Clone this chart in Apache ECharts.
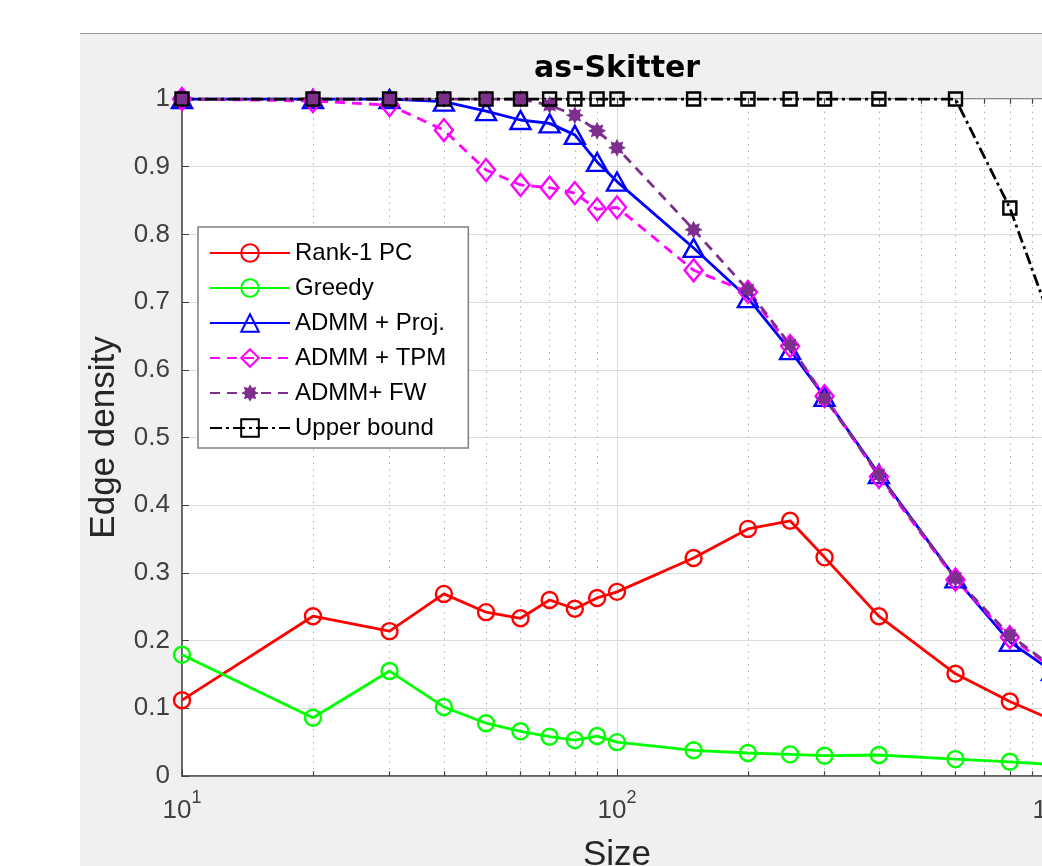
<!DOCTYPE html>
<html>
<head>
<meta charset="utf-8">
<script src="https://cdn.jsdelivr.net/npm/echarts@6/dist/echarts.min.js"></script>
<style>
  html, body { margin: 0; padding: 0; background: #fff; overflow: hidden; width: 1042px; height: 866px; }
  #fig { position: absolute; left: 80px; top: 33px; width: 1074px; height: 850px;
         background: #f0f0f0; border-top: 1px solid #9a9a9a; }
</style>
</head>
<body>
<div id="fig"></div>
<script>
// problem sizes (x) and edge density per method
var sizes = [10, 20, 30, 40, 50, 60, 70, 80, 90, 100, 150, 200, 250, 300, 400, 600, 800, 1000];
var rank1PC = [0.112, 0.236, 0.214, 0.269, 0.242, 0.233, 0.260, 0.247, 0.263, 0.272, 0.322, 0.365, 0.377, 0.323, 0.236, 0.151, 0.110, 0.083];
var greedy = [0.179, 0.086, 0.155, 0.102, 0.078, 0.066, 0.058, 0.053, 0.059, 0.050, 0.038, 0.034, 0.032, 0.030, 0.031, 0.025, 0.021, 0.017];
var admmProj = [1, 1, 1, 0.996, 0.982, 0.969, 0.964, 0.947, 0.907, 0.878, 0.780, 0.706, 0.629, 0.560, 0.446, 0.292, 0.198, 0.155];
var admmTPM = [1, 0.997, 0.991, 0.954, 0.895, 0.873, 0.869, 0.861, 0.837, 0.840, 0.747, 0.715, 0.635, 0.561, 0.442, 0.290, 0.205, 0.160];
var admmFW = [1, 1, 1, 1, 1, 1, 0.991, 0.976, 0.953, 0.928, 0.807, 0.718, 0.637, 0.558, 0.445, 0.292, 0.208, 0.162];
var upperBound = [1, 1, 1, 1, 1, 1, 1, 1, 1, 1, 1, 1, 1, 1, 1, 1, 0.839, 0.668];

// minor log ticks (matlab style dotted grid)
var minorTicks = [20, 30, 40, 50, 60, 70, 80, 90, 200, 300, 400, 500, 600, 700, 800, 900];

var FONT = 'Liberation Sans';

function pairs(ys) {
    return sizes.map(function (x, i) { return [x, ys[i]]; });
}

// asterisk-like blob for the FW marker
function starPath() {
    var d = '';
    for (var k = 0; k < 16; k++) {
        var a = k * Math.PI / 8;
        var r = (k % 2 === 0) ? 10 : 6;
        d += (k === 0 ? 'M' : 'L') + (10 + r * Math.sin(a)).toFixed(2) + ',' + (10 - r * Math.cos(a)).toFixed(2);
    }
    return 'path://' + d + 'Z';
}

var hollow = 'rgba(0,0,0,0)';

function mk(name, ys, color, symbol, size, dash, filled) {
    return {
        name: name,
        type: 'line',
        data: pairs(ys),
        symbol: symbol,
        symbolSize: size,
        showAllSymbol: true,
        z: 3,
        lineStyle: { color: color, width: 2.8, type: dash || 'solid' },
        itemStyle: filled ? { color: color } : { color: hollow, borderColor: color, borderWidth: 2.4 }
    };
}

// grid decorations drawn through the x scale
var gridLines = {
    name: 'grid', type: 'line', data: [], silent: true, z: 1,
    markLine: {
        silent: true, z: 1, symbol: 'none', label: { show: false },
        lineStyle: { color: '#b0b0b0', width: 1, type: [1.5, 5] },
        data: minorTicks.map(function (x) { return [{ coord: [x, 0] }, { coord: [x, 1] }]; })
    }
};
var tickMarks = {
    name: 'ticks', type: 'line', data: [], silent: true, z: 2,
    markLine: {
        silent: true, z: 2, symbol: 'none', label: { show: false },
        lineStyle: { color: '#444', width: 1.2, type: 'solid' },
        data: minorTicks.map(function (x) { return [{ coord: [x, 0] }, { coord: [x, 0.007] }]; })
            .concat(minorTicks.concat([100]).map(function (x) { return [{ coord: [x, 0.993] }, { coord: [x, 1] }]; }))
    }
};

var chart = echarts.init(document.getElementById('fig'));
var option = {
    animation: false,
    title: {
        text: 'as-Skitter', left: 'center', top: 20, padding: 0,
        textStyle: { fontFamily: 'DejaVu Sans', fontSize: 30, fontWeight: 'bold', color: '#000' }
    },
    legend: {
        orient: 'vertical', left: 118, top: 193,
        padding: [14, 22, 8, 11],
        itemGap: 11, itemWidth: 80, itemHeight: 22,
        backgroundColor: '#fff', borderColor: '#808080', borderWidth: 1.5, borderRadius: 0,
        textStyle: { fontFamily: FONT, fontSize: 24, lineHeight: 20, color: '#000' },
        data: ['Rank-1 PC', 'Greedy', 'ADMM + Proj.', 'ADMM + TPM', 'ADMM+ FW', 'Upper bound']
    },
    grid: {
        left: 102, top: 65, width: 870, height: 677,
        show: true, backgroundColor: '#fff', borderColor: '#6a6a6a', borderWidth: 1.5,
        outerBoundsMode: 'none', containLabel: false
    },
    xAxis: {
        type: 'log', logBase: 10, min: 10, max: 1000,
        name: 'Size', nameLocation: 'middle', nameGap: 58,
        nameTextStyle: { fontFamily: FONT, fontSize: 35, color: '#262626' },
        axisLine: { lineStyle: { color: '#555', width: 1.5 } },
        axisTick: { inside: true, length: 7, lineStyle: { color: '#444' } },
        splitLine: { show: true, lineStyle: { color: '#dcdcdc', width: 1 } },
        axisLabel: {
            fontFamily: FONT, fontSize: 26, color: '#404040', margin: 13, lineHeight: 44,
            formatter: function (v) { return '10{sup|' + Math.round(Math.log10(v)) + '}'; },
            rich: { sup: { fontFamily: FONT, fontSize: 18, lineHeight: 18, verticalAlign: 'top', color: '#404040' } }
        }
    },
    yAxis: {
        type: 'value', min: 0, max: 1, interval: 0.1,
        name: 'Edge density', nameLocation: 'middle', nameGap: 60,
        nameTextStyle: { fontFamily: FONT, fontSize: 35, color: '#262626' },
        axisLine: { show: true, lineStyle: { color: '#555', width: 1.5 } },
        axisTick: { show: true, inside: true, length: 7, lineStyle: { color: '#444' } },
        splitLine: { show: true, lineStyle: { color: '#dcdcdc', width: 1 } },
        axisLabel: { fontFamily: FONT, fontSize: 26, color: '#404040', margin: 12 }
    },
    series: [
        gridLines,
        tickMarks,
        mk('Rank-1 PC', rank1PC, '#ff0000', 'circle', 16),
        mk('Greedy', greedy, '#00ff00', 'circle', 16),
        mk('ADMM + Proj.', admmProj, '#0000ff', 'triangle', [20, 18]),
        mk('ADMM + TPM', admmTPM, '#ff00ff', 'diamond', [18, 22], [10, 7]),
        mk('ADMM+ FW', admmFW, '#7e2f8e', starPath(), 18, [10, 7], true),
        mk('Upper bound', upperBound, '#000000', 'rect', 13, [12, 4, 3, 4])
    ]
};
chart.setOption(option);
</script>
</body>
</html>
